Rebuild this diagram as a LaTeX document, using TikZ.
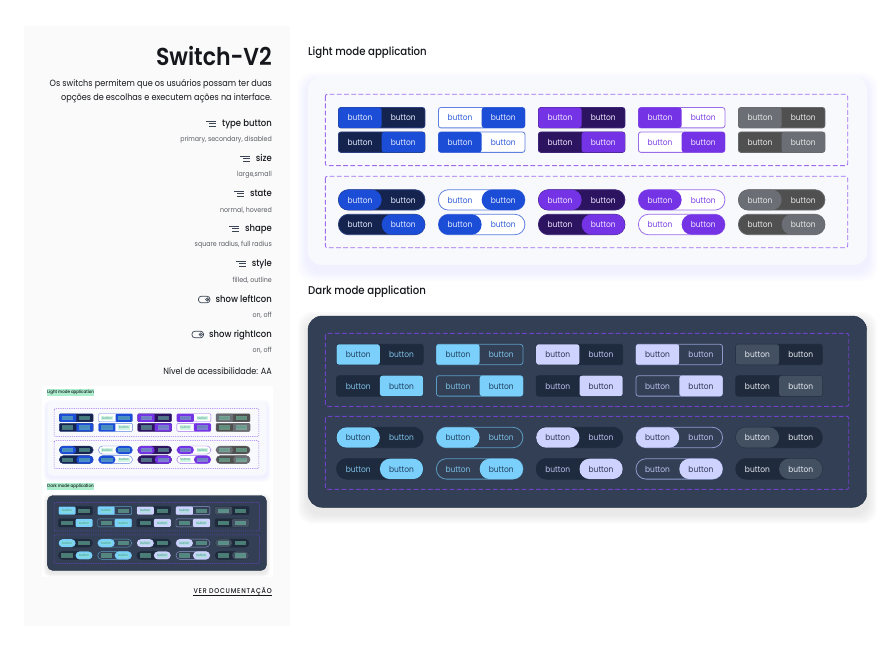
\documentclass[tikz,border=0pt]{standalone}
\usepackage{fontspec}
\setmainfont{Poppins}[FakeStretch=.9]
\newfontfamily\headfont{Poppins SemiBold}[FakeStretch=.9]
\newfontfamily\medfont{Poppins Medium}[FakeStretch=.9]
\usetikzlibrary{positioning}

\definecolor{inkc}{HTML}{15171C}
\definecolor{subc}{HTML}{5A5D63}
\definecolor{iconc}{HTML}{3A4452}
\definecolor{panelc}{HTML}{FAFAFA}
\definecolor{lightcard}{HTML}{F8F9FC}
\definecolor{darkcard}{HTML}{323F54}
\definecolor{darkline}{HTML}{1E2B3E}
\definecolor{dashl}{HTML}{A06CF0}
\definecolor{dashd}{HTML}{7040C8}
\definecolor{mintc}{HTML}{8FE8BC}
\definecolor{thumbtext}{HTML}{3E8F8C}

\definecolor{pritrack}{HTML}{15234F}\definecolor{priedge}{HTML}{2A3F7E}\definecolor{prion}{HTML}{1B4DD6}
\definecolor{priontext}{HTML}{E6ECFF}\definecolor{priofftext}{HTML}{E6ECFF}
\definecolor{sectrack}{HTML}{FFFFFF}\definecolor{secedge}{HTML}{5F80DE}\definecolor{secon}{HTML}{1B4DD6}
\definecolor{secontext}{HTML}{E6ECFF}\definecolor{secofftext}{HTML}{2F5BD8}
\definecolor{viotrack}{HTML}{2C1460}\definecolor{vioedge}{HTML}{3D2478}\definecolor{vioon}{HTML}{7533E6}
\definecolor{vioontext}{HTML}{F0E8FF}\definecolor{vioofftext}{HTML}{F0E8FF}
\definecolor{viltrack}{HTML}{FFFFFF}\definecolor{viledge}{HTML}{9A6CE8}\definecolor{vilon}{HTML}{7533E6}
\definecolor{vilontext}{HTML}{F0E8FF}\definecolor{vilofftext}{HTML}{7C3FE6}
\definecolor{distrack}{HTML}{505050}\definecolor{disedge}{HTML}{66686C}\definecolor{dison}{HTML}{6B6E74}
\definecolor{disontext}{HTML}{E8E8E8}\definecolor{disofftext}{HTML}{E8E8E8}
\definecolor{dpritrack}{HTML}{1E2A3D}\definecolor{dpriedge}{HTML}{1E2A3D}\definecolor{dprion}{HTML}{7AD0FB}
\definecolor{dpriontext}{HTML}{1F3F60}\definecolor{dpriofftext}{HTML}{7FC2EA}
\definecolor{dsectrack}{HTML}{323F54}\definecolor{dsecedge}{HTML}{5A9BC4}\definecolor{dsecon}{HTML}{7AD0FB}
\definecolor{dsecontext}{HTML}{1F3F60}\definecolor{dsecofftext}{HTML}{7FC2EA}
\definecolor{dviotrack}{HTML}{1E2A3D}\definecolor{dvioedge}{HTML}{1E2A3D}\definecolor{dvioon}{HTML}{CDD2FF}
\definecolor{dvioontext}{HTML}{2B3550}\definecolor{dvioofftext}{HTML}{BEC3F2}
\definecolor{dviltrack}{HTML}{323F54}\definecolor{dviledge}{HTML}{8E9ACB}\definecolor{dvilon}{HTML}{CDD2FF}
\definecolor{dvilontext}{HTML}{2B3550}\definecolor{dvilofftext}{HTML}{BEC3F2}
\definecolor{ddistrack}{HTML}{1F2B3C}\definecolor{ddisedge}{HTML}{1F2B3C}\definecolor{ddison}{HTML}{435062}
\definecolor{ddisontext}{HTML}{E6EAF0}\definecolor{ddisofftext}{HTML}{E6EAF0}

\tikzset{
  swtrack/.style={rectangle, minimum width=86.5pt, minimum height=20.4pt, inner sep=0pt, line width=\swline},
  swon/.style={rectangle, minimum width=43.2pt, minimum height=20.4pt, inner sep=0pt},
  swlabel/.style={inner sep=0pt, font=\fontsize{8.3}{10}\selectfont, text height=6pt, text depth=0pt},
  swdash/.style={line width=.9pt, dash pattern=on 4.8pt off 2.4pt, rounded corners=2pt},
  swhead/.style={anchor=west, inner sep=0pt, text=inkc, font=\medfont\fontsize{11.3}{13}\selectfont},
  proplabel/.style={anchor=east, inner sep=0pt, text=inkc, font=\medfont\fontsize{9.4}{11}\selectfont, text height=7pt, text depth=2pt},
  propsub/.style={anchor=east, inner sep=0pt, text=subc, font=\fontsize{7}{8}\selectfont},
  sideline/.style={anchor=east, inner sep=0pt, text=inkc, font=\fontsize{9}{11}\selectfont},
}

\newcommand{\swline}{.8pt}
\newcommand{\swrs}{2.5pt}
\newcommand{\swrf}{10pt}
\newcommand{\swrc}{14pt}

\newcommand{\swpair}[6]{%
  \node[swtrack, draw=#6edge, fill=#6track, rounded corners=#4] (#1) at (#2+43.25,#3+10.2) {};
  \ifnum\numexpr#5\relax=0
    \node[swon, fill=#6on, rounded corners=#4] (#1on) at (#2+21.6,#3+10.2) {};
    \node[text=#6ontext, swlabel] (#1a) at (#2+21.6,#3+10.5) {button};
    \node[text=#6offtext, swlabel] (#1b) at (#2+64.9,#3+10.5) {button};
  \else
    \node[swon, fill=#6on, rounded corners=#4] (#1on) at (#2+64.9,#3+10.2) {};
    \node[text=#6offtext, swlabel] (#1a) at (#2+21.6,#3+10.5) {button};
    \node[text=#6ontext, swlabel] (#1b) at (#2+64.9,#3+10.5) {button};
  \fi}

\newcommand{\softshadow}[6]{%
  \foreach \s in {10,8,6,4,2}
    \fill[#6, opacity=.025, rounded corners=#5] (#1-\s,#2-\s+6) rectangle (#3+\s,#4+\s+6);}

\newcommand{\boards}[1]{%
  \node[swhead] (#1lighthead) at (308,53) {Light mode application};
  \softshadow{307.7}{76.7}{867.3}{265}{\swrc}{blue!50!white}
  \fill[lightcard, rounded corners=\swrc] (307.7,76.7) rectangle (867.3,265);
  \draw[swdash, dashl] (325.3,94.3) rectangle (847.7,165.7);
  \draw[swdash, dashl] (325.3,176.3) rectangle (847.7,247.7);
  \foreach \set/\flip [count=\c from 0] in {pri/0,sec/1,vio/0,vil/0,dis/0}
    \foreach \yy/\rad/\side [count=\r] in {107.5/\swrs/0,132/\swrs/1,189.7/\swrf/0,214.3/\swrf/1}
      {\swpair{#1l\c\r}{338.4+100*\c}{\yy}{\rad}{(\side-\flip)*(\side-\flip)}{\set}}
  \node[swhead] (#1darkhead) at (308,292) {Dark mode application};
  \softshadow{308}{316}{866.7}{507.3}{\swrc}{black!70}
  \fill[darkcard, draw=darkline, rounded corners=\swrc] (308,316) rectangle (866.7,507.3);
  \draw[swdash, dashd] (325.3,333.3) rectangle (848.7,406.3);
  \draw[swdash, dashd] (325.3,416.3) rectangle (848.7,489.3);
  \foreach \set [count=\c from 0] in {dpri,dsec,dvio,dvil,ddis}
    \foreach \yy/\rad/\side [count=\r] in {344.3/\swrs/0,375.7/\swrs/1,427.3/\swrf/0,458.7/\swrf/1}
      {\swpair{#1d\c\r}{336.6+99.8*\c}{\yy}{\rad}{\side}{\set}}}

\begin{document}
\begin{tikzpicture}[x=1pt,y=-1pt]
\useasboundingbox (0,0) rectangle (890,652);
\fill[white] (0,0) rectangle (890,652);
\fill[panelc] (24,26) rectangle (290,626);

\node[anchor=east, inner sep=0pt, text=inkc, font=\headfont\fontsize{24.5}{28}\selectfont] (title) at (272,56) {Switch-V2};
\node[sideline] (descone) at (272,84) {Os switchs permitem que os usuários possam ter duas};
\node[sideline] (desctwo) at (272,98) {opções de escolhas e executem ações na interface.};

\foreach \ptext/\psub/\py [count=\i] in {
  {type button}/{primary, secondary, disabled}/123.7,
  {size}/{large,small}/158.7,
  {state}/{normal, hovered}/193.7,
  {shape}/{square radius, full radius}/228.7,
  {style}/{filled, outline}/263.7}
  {\node[proplabel] (prop\i) at (272,\py+.5) {\ptext};
   \node[propsub] (sub\i) at (272,\py+16.5) {\psub};
   \draw[iconc, line width=.9pt] ([xshift=-15.5pt,yshift=3.2pt]prop\i.west) -- ++(10,0);
   \draw[iconc, line width=1pt] ([xshift=-12.5pt,yshift=.6pt]prop\i.west) -- ++(7,0);
   \draw[iconc, line width=1pt] ([xshift=-12.5pt,yshift=-2pt]prop\i.west) -- ++(7,0);}

\foreach \ptext/\py [count=\i from 6] in {{show leftIcon}/299,{show rightIcon}/334}
  {\node[proplabel] (prop\i) at (272,\py+.5) {\ptext};
   \node[propsub] (sub\i) at (272,\py+16.5) {on, off};
   \draw[iconc, line width=.7pt, rounded corners=3pt] ([xshift=-17pt,yshift=3.3pt]prop\i.west) rectangle ++(11.6,6.6);
   \draw[iconc, line width=.6pt] ([xshift=-8.2pt]prop\i.west) circle (1.7pt);
   \fill[iconc] ([xshift=-8.2pt]prop\i.west) circle (.7pt);}

\node[sideline] (level) at (272,371) {Nível de acessibilidade: AA};

\fill[white] (41.7,386) rectangle (272.7,576.7);
\begin{scope}[shift={(47.3,401.7)}, scale=.392, transform shape, shift={(-307.7,-76.7)},
  swdash/.append style={line width=.5pt, dash pattern=on 1.2pt off 1pt, rounded corners=1pt},
  swlabel/.append style={text=thumbtext, fill=mintc, fill opacity=.42, text opacity=1, inner xsep=2pt, inner ysep=2.5pt},
  swhead/.append style={fill=mintc, fill opacity=.75, text opacity=1, inner xsep=0pt, inner ysep=3pt}]
\renewcommand{\swline}{.4pt}
\renewcommand{\swrs}{1pt}
\renewcommand{\swrf}{4pt}
\renewcommand{\swrc}{5.5pt}
\boards{t}
\end{scope}

\node[anchor=east, inner sep=0pt, text=inkc, font=\medfont\fontsize{7}{8}\selectfont] (docs) at (272,591) {\addfontfeature{LetterSpace=11}VER DOCUMENTAÇÃO};
\draw[inkc, line width=.6pt] (docs.west |- 0,595.2) -- (docs.east |- 0,595.2);

\boards{m}
\end{tikzpicture}
\end{document}
